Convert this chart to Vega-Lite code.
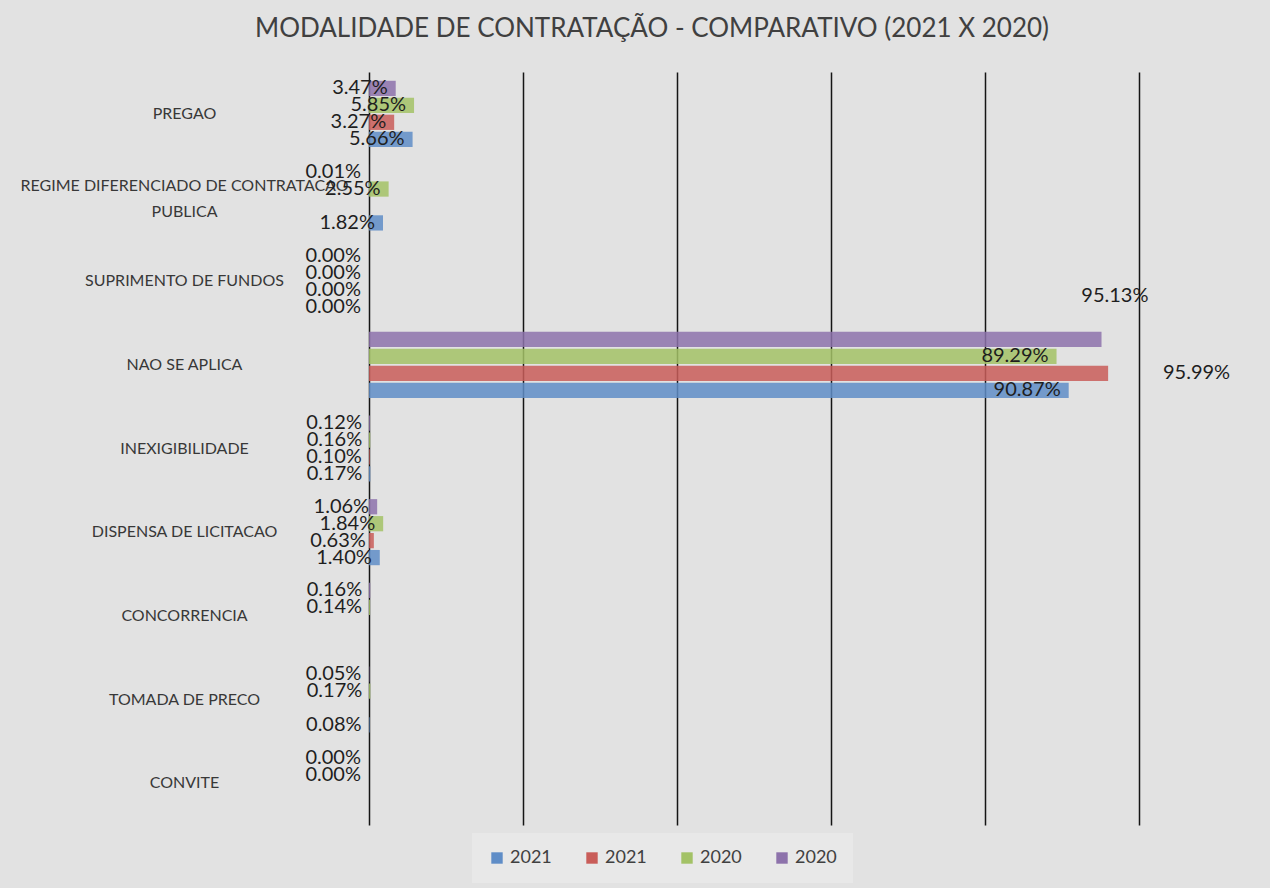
{
  "$schema": "https://vega.github.io/schema/vega-lite/v6.json",
  "width": 770,
  "height": 753,
  "autosize": {"type": "none"},
  "padding": {"left": 369, "top": 72, "right": 131, "bottom": 63},
  "background": "#e2e2e2",
  "title": {
    "text": "MODALIDADE DE CONTRATAÇÃO - COMPARATIVO (2021 X 2020)",
    "font": "Lato",
    "fontSize": 26,
    "fontWeight": "normal",
    "color": "#404040",
    "anchor": "middle",
    "dx": -102,
    "offset": 30
  },
  "config": {"view": {"stroke": null}, "font": "Lato"},
  "data": {
    "values": [
      {"cat": "PREGAO", "s": "s1", "v": 0.0566},
      {"cat": "PREGAO", "s": "s2", "v": 0.0327},
      {"cat": "PREGAO", "s": "s3", "v": 0.0585},
      {"cat": "PREGAO", "s": "s4", "v": 0.0347},
      {"cat": "REGIME DIFERENCIADO DE CONTRATACAO PUBLICA", "s": "s1", "v": 0.0182},
      {"cat": "REGIME DIFERENCIADO DE CONTRATACAO PUBLICA", "s": "s3", "v": 0.0255},
      {"cat": "REGIME DIFERENCIADO DE CONTRATACAO PUBLICA", "s": "s4", "v": 0.0001},
      {"cat": "SUPRIMENTO DE FUNDOS", "s": "s1", "v": 0},
      {"cat": "SUPRIMENTO DE FUNDOS", "s": "s2", "v": 0},
      {"cat": "SUPRIMENTO DE FUNDOS", "s": "s3", "v": 0},
      {"cat": "SUPRIMENTO DE FUNDOS", "s": "s4", "v": 0},
      {"cat": "NAO SE APLICA", "s": "s1", "v": 0.9087},
      {"cat": "NAO SE APLICA", "s": "s2", "v": 0.9599},
      {"cat": "NAO SE APLICA", "s": "s3", "v": 0.8929},
      {"cat": "NAO SE APLICA", "s": "s4", "v": 0.9513},
      {"cat": "INEXIGIBILIDADE", "s": "s1", "v": 0.0017},
      {"cat": "INEXIGIBILIDADE", "s": "s2", "v": 0.0010},
      {"cat": "INEXIGIBILIDADE", "s": "s3", "v": 0.0016},
      {"cat": "INEXIGIBILIDADE", "s": "s4", "v": 0.0012},
      {"cat": "DISPENSA DE LICITACAO", "s": "s1", "v": 0.0140},
      {"cat": "DISPENSA DE LICITACAO", "s": "s2", "v": 0.0063},
      {"cat": "DISPENSA DE LICITACAO", "s": "s3", "v": 0.0184},
      {"cat": "DISPENSA DE LICITACAO", "s": "s4", "v": 0.0106},
      {"cat": "CONCORRENCIA", "s": "s3", "v": 0.0014},
      {"cat": "CONCORRENCIA", "s": "s4", "v": 0.0016},
      {"cat": "TOMADA DE PRECO", "s": "s1", "v": 0.0008},
      {"cat": "TOMADA DE PRECO", "s": "s3", "v": 0.0017},
      {"cat": "TOMADA DE PRECO", "s": "s4", "v": 0.0005},
      {"cat": "CONVITE", "s": "s3", "v": 0},
      {"cat": "CONVITE", "s": "s4", "v": 0}
    ]
  },
  "encoding": {
    "y": {
      "field": "cat",
      "type": "nominal",
      "sort": ["PREGAO", "REGIME DIFERENCIADO DE CONTRATACAO PUBLICA", "SUPRIMENTO DE FUNDOS", "NAO SE APLICA", "INEXIGIBILIDADE", "DISPENSA DE LICITACAO", "CONCORRENCIA", "TOMADA DE PRECO", "CONVITE"],
      "scale": {"paddingInner": 0.21, "paddingOuter": 0.105},
      "axis": {
        "title": null,
        "labelAlign": "center",
        "labelPadding": 185,
        "ticks": false,
        "domain": false,
        "labelFont": "Lato",
        "labelFontSize": 16,
        "labelColor": "#383838",
        "labelLimit": 600,
        "labelLineHeight": 26,
        "labelOffset": {"condition": {"test": "datum.value == 'REGIME DIFERENCIADO DE CONTRATACAO PUBLICA'", "value": -12}, "value": 0},
        "labelExpr": "datum.value == 'REGIME DIFERENCIADO DE CONTRATACAO PUBLICA' ? ['REGIME DIFERENCIADO DE CONTRATACAO', 'PUBLICA'] : datum.label"
      }
    },
    "yOffset": {
      "field": "s",
      "scale": {"domain": ["s4", "s3", "s2", "s1"], "paddingInner": 0.1}
    },
    "x": {
      "field": "v",
      "type": "quantitative",
      "scale": {"domain": [0, 1]},
      "axis": {
        "title": null,
        "values": [0, 0.2, 0.4, 0.6, 0.8, 1],
        "labels": false,
        "ticks": false,
        "domain": false,
        "grid": true,
        "gridColor": "#151515",
        "gridWidth": 1.5
      }
    }
  },
  "layer": [
    {
      "mark": {"type": "bar", "fillOpacity": 0.85},
      "encoding": {
        "color": {
          "field": "s",
          "type": "nominal",
          "scale": {"domain": ["s1", "s2", "s3", "s4"], "range": ["#5F8DC7", "#C95D59", "#A3C266", "#8D72AB"]},
          "legend": {
            "title": null,
            "orient": "none",
            "legendX": 103,
            "legendY": 761,
            "direction": "horizontal",
            "columns": 4,
            "symbolType": "square",
            "symbolSize": 130,
            "symbolStrokeWidth": 0,
            "labelFont": "Lato",
            "labelFontSize": 18,
            "labelColor": "#404040",
            "columnPadding": 31,
            "padding": 16,
            "fillColor": "#e8e8e8",
            "labelExpr": "(datum.label == 's1' || datum.label == 's2') ? '2021' : '2020'"
          }
        }
      }
    },
    {
      "transform": [{"filter": "!(datum.cat == 'NAO SE APLICA' && (datum.s == 's4' || datum.s == 's2'))"}],
      "mark": {"type": "text", "align": "right", "baseline": "middle", "dx": -8, "fontSize": 20, "font": "Lato", "color": "#1e1e1e"},
      "encoding": {"text": {"field": "v", "type": "quantitative", "format": ".2%"}}
    },
    {
      "transform": [{"filter": "datum.cat == 'NAO SE APLICA' && datum.s == 's4'"}],
      "mark": {"type": "text", "align": "right", "baseline": "middle", "dx": 47, "dy": -43, "fontSize": 20, "font": "Lato", "color": "#1e1e1e"},
      "encoding": {"text": {"field": "v", "type": "quantitative", "format": ".2%"}}
    },
    {
      "transform": [{"filter": "datum.cat == 'NAO SE APLICA' && datum.s == 's2'"}],
      "mark": {"type": "text", "align": "right", "baseline": "middle", "dx": 122, "fontSize": 20, "font": "Lato", "color": "#1e1e1e"},
      "encoding": {"text": {"field": "v", "type": "quantitative", "format": ".2%"}}
    }
  ]
}
